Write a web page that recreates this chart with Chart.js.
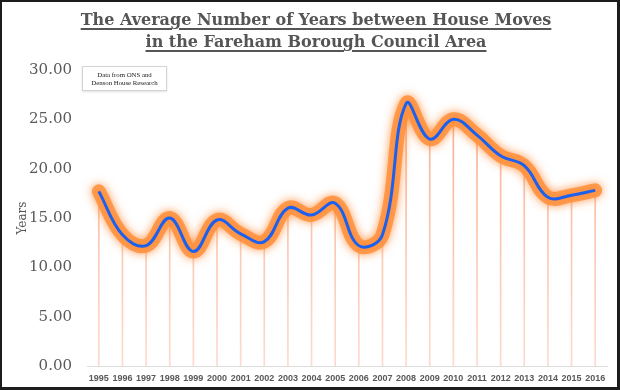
<!DOCTYPE html>
<html>
<head>
<meta charset="utf-8">
<script src="https://cdn.jsdelivr.net/npm/chart.js@4.4.1/dist/chart.umd.min.js"></script>
<style>
    html, body { margin: 0; padding: 0; background: #fff; }
    #wrap { position: relative; width: 620px; height: 390px; overflow: hidden; background: #fff; }
    #chart { position: absolute; left: 0; top: 0; }
    #title {
        position: absolute; left: 0; top: 9px; width: 632px;
        text-align: center; color: #555;
        font: bold 16px "DejaVu Serif", serif; line-height: 22px;
        text-decoration: underline; text-underline-offset: 3px; text-decoration-thickness: 1.5px;
    }
    #note {
        position: absolute; left: 82px; top: 66px; width: 83px; height: 19px;
        border: 1px solid #d4d4d4; box-shadow: 0 1px 2px rgba(0,0,0,0.12);
        text-align: center; color: #222;
        font: 6.8px "Liberation Serif", serif; line-height: 8px; padding-top: 4px; box-sizing: content-box;
    }
    #frame {
        position: absolute; left: 0; top: 0; width: 620px; height: 390px; box-sizing: border-box;
        border: 2px solid #1c1c1c; border-right-width: 3px; border-bottom-width: 3px; pointer-events: none;
    }
</style>
</head>
<body>
<div id="wrap">
    <canvas id="chart" width="620" height="390"></canvas>
    <div id="title">The Average Number of Years between House Moves<br>in the Fareham Borough Council Area</div>
    <div id="note">Data from ONS and<br>Denson House Research</div>
    <div id="frame"></div>
</div>
<script>
// Chart data
const years = ['1995', '1996', '1997', '1998', '1999', '2000', '2001', '2002', '2003', '2004', '2005',
               '2006', '2007', '2008', '2009', '2010', '2011', '2012', '2013', '2014', '2015', '2016'];
const avgYears = [17.7, 13.3, 12.2, 15.0, 11.6, 14.8, 13.4, 12.6, 16.0, 15.3, 16.5,
                  12.2, 13.3, 26.6, 23.0, 25.0, 23.4, 21.3, 20.3, 17.1, 17.3, 17.8];
const yMin = 0;
const yMax = 30;
const yStep = 5;

// soft orange halo under the main line
const glowPlugin = {
    id: 'glow',
    beforeDatasetDraw(chart, args) {
        if (args.index === 1) {
            chart.ctx.save();
            chart.ctx.shadowColor = 'rgba(255, 130, 40, 0.95)';
            chart.ctx.shadowBlur = 10;
        }
    },
    afterDatasetDraw(chart, args) {
        if (args.index === 1) {
            chart.ctx.restore();
        }
    }
};

function dropLineColor(context) {
    const area = context.chart.chartArea;
    if (!area) return 'rgba(250, 160, 120, 0.7)';
    const g = context.chart.ctx.createLinearGradient(0, area.top, 0, area.bottom);
    g.addColorStop(0, 'rgba(248, 150, 105, 0.85)');
    g.addColorStop(1, 'rgba(250, 175, 145, 0.45)');
    return g;
}

new Chart(document.getElementById('chart'), {
    type: 'line',
    data: {
        labels: years,
        datasets: [
            {
                type: 'bar',
                data: avgYears,
                backgroundColor: dropLineColor,
                barThickness: 1,
                order: 3
            },
            {
                data: avgYears,
                borderColor: 'rgba(255, 145, 60, 0.85)',
                borderWidth: 14,
                tension: 0.4,
                pointRadius: 0,
                borderCapStyle: 'round',
                order: 2
            },
            {
                data: avgYears,
                borderColor: '#1b60ee',
                borderWidth: 3,
                tension: 0.4,
                pointRadius: 0,
                order: 1
            }
        ]
    },
    options: {
        responsive: false,
        animation: false,
        layout: { padding: { top: 70, right: 13, left: 0, bottom: 0 } },
        plugins: {
            legend: { display: false },
            tooltip: { enabled: false }
        },
        scales: {
            x: {
                offset: true,
                grid: { display: false, drawTicks: false },
                border: { display: true, color: '#dcdcdc', width: 1 },
                ticks: {
                    padding: 7,
                    maxRotation: 0,
                    autoSkip: false,
                    color: '#585858',
                    font: { family: 'Liberation Sans', weight: 'bold', size: 9 }
                },
                afterFit(scale) { scale.height = 24; }
            },
            y: {
                min: yMin,
                max: yMax,
                grid: { display: false, drawTicks: false },
                border: { display: false },
                ticks: {
                    stepSize: yStep,
                    padding: 15,
                    color: '#5a5a5a',
                    font: { family: 'DejaVu Serif', size: 15 },
                    callback: v => v.toFixed(2)
                },
                title: {
                    display: true,
                    text: 'Years',
                    color: '#555',
                    font: { family: 'DejaVu Serif', size: 12 },
                    padding: { top: 16, bottom: 0 }
                },
                afterFit(scale) { scale.width = 87; }
            }
        }
    },
    plugins: [glowPlugin]
});
</script>
</body>
</html>
